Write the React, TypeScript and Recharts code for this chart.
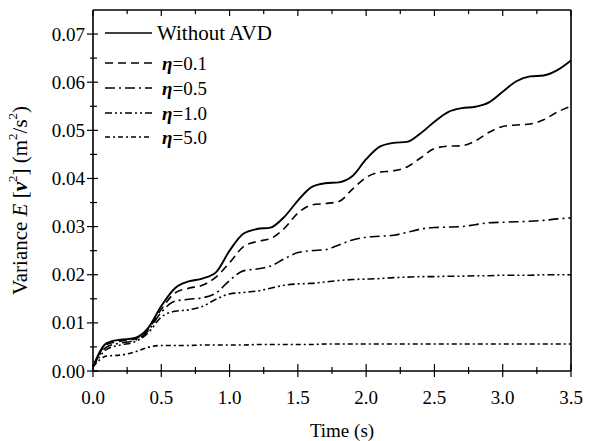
import { LineChart, Line, XAxis, YAxis, Label } from 'recharts';

const times = [
  0, 0.1, 0.2, 0.3, 0.4, 0.5, 0.6, 0.7, 0.8, 0.9, 1.0, 1.1, 1.2, 1.3, 1.4, 1.5, 1.6, 1.7,
  1.8, 1.9, 2.0, 2.1, 2.2, 2.3, 2.4, 2.5, 2.6, 2.7, 2.8, 2.9, 3.0, 3.1, 3.2, 3.3, 3.4, 3.5,
];

const withoutAvd = [
  0.0009, 0.0058, 0.0065, 0.0068, 0.0088, 0.0135, 0.0172, 0.0186, 0.0192, 0.0205, 0.025, 0.0285,
  0.0295, 0.0298, 0.032, 0.0354, 0.0382, 0.039, 0.0392, 0.0405, 0.044, 0.0466, 0.0474, 0.0476,
  0.0494, 0.0518, 0.0538, 0.0546, 0.0549, 0.0558, 0.058, 0.0602, 0.0612, 0.0614, 0.0625, 0.0645,
];
const eta01 = [
  0.0009, 0.0055, 0.0062, 0.0066, 0.0085, 0.0128, 0.0162, 0.0172, 0.0178, 0.0195, 0.0225, 0.0258,
  0.0269, 0.0275, 0.0296, 0.0328, 0.0345, 0.0348, 0.0352, 0.0378, 0.0402, 0.0413, 0.0416, 0.0424,
  0.0443, 0.0462, 0.0467, 0.0468, 0.0478, 0.0496, 0.0508, 0.0511, 0.0513, 0.0522, 0.0538, 0.055,
];
const eta05 = [
  0.0009, 0.005, 0.0058, 0.0063, 0.0082, 0.0122, 0.0145, 0.0149, 0.0152, 0.0162, 0.0188, 0.0208,
  0.0212, 0.0218, 0.0233, 0.0246, 0.025, 0.0252, 0.0262, 0.0272, 0.0278, 0.028, 0.0282, 0.0288,
  0.0295, 0.0298, 0.0299, 0.03, 0.0304, 0.0308, 0.0309, 0.031, 0.0311, 0.0313, 0.0316, 0.0318,
];
const eta10 = [
  0.0009, 0.0045, 0.0054, 0.006, 0.0078, 0.0112, 0.0124, 0.0127, 0.0134, 0.0149, 0.016, 0.0163,
  0.0166, 0.0172, 0.0178, 0.0181, 0.0182, 0.0185, 0.0188, 0.019, 0.0191, 0.0192, 0.0194, 0.0195,
  0.0196, 0.0196, 0.0197, 0.0197, 0.0198, 0.0198, 0.0199, 0.0199, 0.0199, 0.02, 0.02, 0.02,
];
const eta50 = [
  0.0009, 0.0031, 0.0033, 0.0039, 0.0049, 0.0053, 0.0053, 0.0053, 0.0054, 0.0054, 0.0054, 0.0054,
  0.0055, 0.0055, 0.0055, 0.0055, 0.0055, 0.0056, 0.0056, 0.0056, 0.0056, 0.0056, 0.0056, 0.0056,
  0.0056, 0.0056, 0.0056, 0.0056, 0.0056, 0.0056, 0.0056, 0.0056, 0.0056, 0.0056, 0.0056, 0.0056,
];

const xTicks = [0, 0.25, 0.5, 0.75, 1, 1.25, 1.5, 1.75, 2, 2.25, 2.5, 2.75, 3, 3.25, 3.5];
const yTicks = [
  0, 0.005, 0.01, 0.015, 0.02, 0.025, 0.03, 0.035, 0.04, 0.045, 0.05, 0.055, 0.06, 0.065, 0.07,
];

const series = [
  { key: 'noAvd', label: 'Without AVD', values: withoutAvd, dash: undefined as string | undefined },
  { key: 'eta01', label: '=0.1', values: eta01, dash: '8 5' },
  { key: 'eta05', label: '=0.5', values: eta05, dash: '10 4 2 4' },
  { key: 'eta10', label: '=1.0', values: eta10, dash: '7 3 2 3 2 3' },
  { key: 'eta50', label: '=5.0', values: eta50, dash: '5 3 2 3' },
];

const data = times.map((t, i) => {
  const row: Record<string, number> = { t };
  series.forEach((s) => (row[s.key] = s.values[i]));
  return row;
});

const FONT = "'Liberation Serif', 'DejaVu Serif', serif";

const isMajor = (v: number, step: number) => Math.abs(v / step - Math.round(v / step)) < 1e-6;

const LeftTick = (props: any) => {
  const { x, y, payload } = props;
  const major = isMajor(payload.value, 0.01);
  return (
    <g>
      <line x1={x - (major ? 6 : 3)} x2={x + (major ? 5 : 4)} y1={y} y2={y} stroke="#000" strokeWidth={1.2} />
      {major && (
        <text x={x - 8} y={y} textAnchor="end" dominantBaseline="central" fontSize={19} fontFamily={FONT} fill="#000">
          {payload.value.toFixed(2)}
        </text>
      )}
    </g>
  );
};

const RightTick = (props: any) => {
  const { x, y, payload } = props;
  const major = isMajor(payload.value, 0.01);
  return <line x1={x - (major ? 5 : 4)} x2={x} y1={y} y2={y} stroke="#000" strokeWidth={1.2} />;
};

const BottomTick = (props: any) => {
  const { x, y, payload } = props;
  const major = isMajor(payload.value, 0.5);
  return (
    <g>
      <line x1={x} x2={x} y1={y - (major ? 7 : 4)} y2={y + (major ? 6 : 3)} stroke="#000" strokeWidth={1.2} />
      {major && (
        <text x={x} y={y + 26} textAnchor="middle" dominantBaseline="central" fontSize={19} fontFamily={FONT} fill="#000">
          {payload.value.toFixed(1)}
        </text>
      )}
    </g>
  );
};

const TopTick = (props: any) => {
  const { x, y, payload } = props;
  const major = isMajor(payload.value, 0.5);
  return <line x1={x} x2={x} y1={y} y2={y + (major ? 6 : 4)} stroke="#000" strokeWidth={1.2} />;
};

const YTitle = (props: any) => {
  const { viewBox } = props;
  const cy = viewBox.y + viewBox.height / 2 + 10;
  return (
    <text
      x={20}
      y={cy}
      transform={`rotate(-90 20 ${cy})`}
      textAnchor="middle"
      dominantBaseline="central"
      fontSize={21}
      fontFamily={FONT}
      fill="#000"
    >
      Variance <tspan fontStyle="italic">E</tspan> [<tspan fontStyle="italic" fontWeight="bold">v</tspan>
      <tspan fontSize={13} dy={-8}>2</tspan>
      <tspan dy={8}>] (m</tspan>
      <tspan fontSize={13} dy={-8}>2</tspan>
      <tspan dy={8}>/s</tspan>
      <tspan fontSize={13} dy={-8}>2</tspan>
      <tspan dy={8}>)</tspan>
    </text>
  );
};

const XTitle = (props: any) => {
  const { viewBox } = props;
  return (
    <text
      x={viewBox.x + viewBox.width / 2 + 10}
      y={viewBox.y + 59}
      textAnchor="middle"
      dominantBaseline="central"
      fontSize={19}
      fontFamily={FONT}
      fill="#000"
    >
      Time (s)
    </text>
  );
};

const LegendBox = () => {
  const rows = [33, 63, 88, 113, 137];
  return (
    <svg width={320} height={160} style={{ position: 'absolute', left: 0, top: 0 }}>
      {series.map((s, i) => (
        <g key={s.key}>
          <line x1={105} x2={152} y1={rows[i]} y2={rows[i]} stroke="#000" strokeWidth={1.6} strokeDasharray={s.dash} />
          {i === 0 ? (
            <text x={157} y={rows[i]} dominantBaseline="central" fontSize={21} fontFamily={FONT} fill="#000">
              {s.label}
            </text>
          ) : (
            <text x={162} y={rows[i]} dominantBaseline="central" fontSize={19} fontFamily={FONT} fill="#000">
              <tspan fontStyle="italic" fontWeight="bold">η</tspan>
              {s.label}
            </text>
          )}
        </g>
      ))}
    </svg>
  );
};

export default function App() {
  return (
    <div style={{ position: 'absolute', left: 0, top: 0, width: 590, height: 441, background: '#fff' }}>
      <LineChart width={590} height={441} data={data} margin={{ top: 9, right: 18, bottom: 0, left: 33 }}>
        <XAxis
          dataKey="t"
          type="number"
          domain={[0, 3.5]}
          ticks={xTicks}
          interval={0}
          height={70}
          tickLine={false}
          tickSize={0}
          tickMargin={0}
          tick={<BottomTick />}
          axisLine={{ stroke: '#000', strokeWidth: 1.6 }}
        >
          <Label content={<XTitle />} />
        </XAxis>
        <XAxis
          xAxisId="top"
          orientation="top"
          dataKey="t"
          type="number"
          domain={[0, 3.5]}
          ticks={xTicks}
          interval={0}
          height={1}
          tickLine={false}
          tickSize={0}
          tickMargin={0}
          tick={<TopTick />}
          axisLine={{ stroke: '#000', strokeWidth: 1.6 }}
        />
        <YAxis
          type="number"
          domain={[0, 0.075]}
          ticks={yTicks}
          interval={0}
          width={60}
          tickLine={false}
          tickSize={0}
          tickMargin={0}
          tick={<LeftTick />}
          axisLine={{ stroke: '#000', strokeWidth: 1.6 }}
        >
          <Label content={<YTitle />} />
        </YAxis>
        <YAxis
          yAxisId="right"
          orientation="right"
          type="number"
          domain={[0, 0.075]}
          ticks={yTicks}
          interval={0}
          width={1}
          tickLine={false}
          tickSize={0}
          tickMargin={0}
          tick={<RightTick />}
          axisLine={{ stroke: '#000', strokeWidth: 1.6 }}
        />
        {series.map((s) => (
          <Line
            key={s.key}
            dataKey={s.key}
            type="monotone"
            stroke="#000"
            strokeWidth={s.dash ? 1.6 : 1.9}
            strokeDasharray={s.dash}
            dot={false}
            isAnimationActive={false}
          />
        ))}
      </LineChart>
      <LegendBox />
    </div>
  );
}
